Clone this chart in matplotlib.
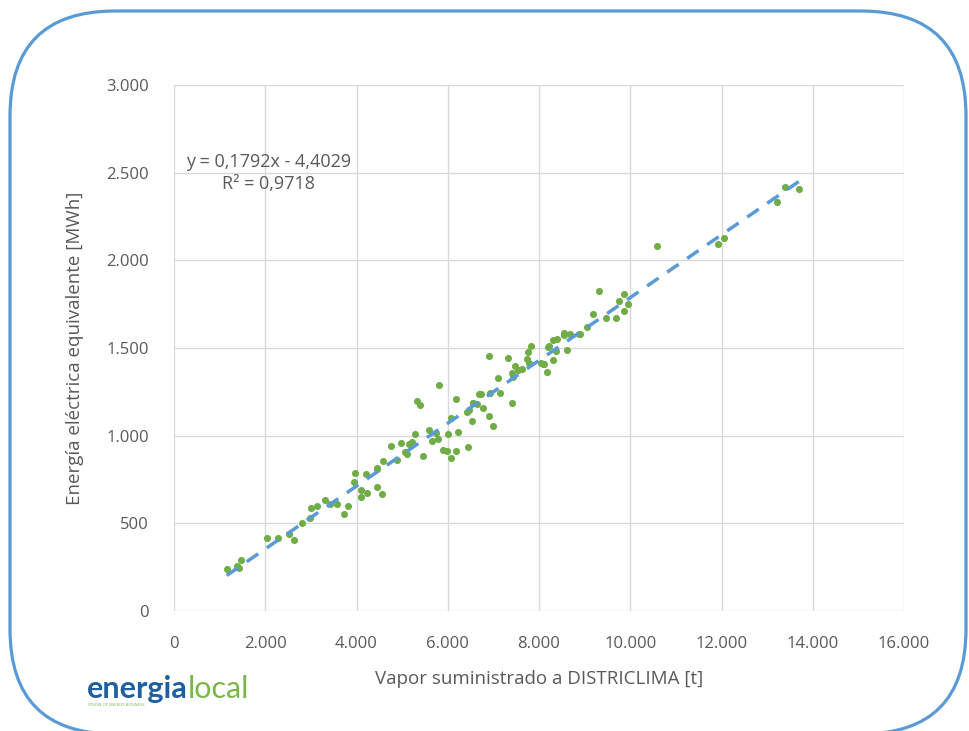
import numpy as np
import matplotlib
matplotlib.use("Agg")
import matplotlib.pyplot as plt
from matplotlib.patches import FancyBboxPatch
from matplotlib.transforms import IdentityTransform
from matplotlib.ticker import FuncFormatter

# Vapor suministrado [t]
vapor = [1155, 1388, 1462, 1432, 2046, 2272, 2521, 2638, 2799, 2981,
         3003, 3142, 3310, 3420, 3566, 3734, 3821, 3975, 4201, 3953,
         4092, 4099, 4223, 4443, 4443, 5815, 5320, 5392, 6181, 6686,
         6642, 6547, 6466, 6429, 6539, 6065, 6219, 6000, 5597, 5743,
         5780, 5662, 5283, 5224, 5158, 4969, 4763, 5064, 5114, 4882,
         5465, 5890, 5978, 6181, 6065, 6451, 4581, 4457, 4566, 6898,
         7328, 7819, 7766, 7731, 7481, 7547, 7621, 7416, 7438, 7102,
         7782, 8045, 8110, 8183, 8301, 8227, 8373, 8389, 8549, 8680,
         8621, 8884, 6927, 6722, 7146, 7416, 6561, 6767, 6898, 6981,
         9323, 9864, 9755, 9945, 9864, 9682, 9463, 9191, 9046, 8900,
         8549, 8315, 8205, 8095, 10594, 11931, 12056, 13211, 13393, 13707]
# Energía eléctrica equivalente [MWh]
energia = [238, 257, 291, 247, 418, 418, 441, 403, 500, 529,
           586, 599, 633, 610, 608, 553, 599, 785, 780, 737,
           690, 652, 671, 814, 709, 1289, 1199, 1175, 1211, 1236,
           1179, 1185, 1146, 1137, 1085, 1101, 1023, 1008, 1031, 1013,
           981, 968, 1008, 966, 952, 956, 943, 905, 895, 861,
           884, 918, 914, 914, 873, 937, 857, 812, 669, 1454,
           1441, 1513, 1475, 1435, 1399, 1374, 1378, 1356, 1333, 1330,
           1416, 1413, 1407, 1365, 1431, 1511, 1484, 1549, 1587, 1580,
           1488, 1580, 1241, 1238, 1245, 1185, 1185, 1158, 1112, 1055,
           1825, 1806, 1770, 1749, 1709, 1673, 1673, 1692, 1618, 1580,
           1574, 1545, 1507, 1409, 2082, 2093, 2127, 2333, 2420, 2408]

slope = 0.1792
intercept = -4.4029
r2 = 0.9718

x_ticks = [0, 2000, 4000, 6000, 8000, 10000, 12000, 14000, 16000]
y_ticks = [0, 500, 1000, 1500, 2000, 2500, 3000]

txt = "#595959"
plt.rcParams['font.family'] = ['Open Sans', 'DejaVu Sans']

fig = plt.figure(figsize=(9.7, 7.31), dpi=100)
ax = fig.add_axes([0.1794, 0.1642, 0.932 - 0.1794, 0.8837 - 0.1642])

ax.scatter(vapor, energia, s=26, color="#70AD47", zorder=3, linewidths=0)
xl = np.array([min(vapor), max(vapor)])
ax.plot(xl, slope * xl + intercept, color="#5B9BD5", lw=2.5,
        dashes=(4, 3), zorder=4)

ax.set_xlim(0, 16000)
ax.set_ylim(0, 3000)
ax.set_xticks(x_ticks)
ax.set_yticks(y_ticks)
fmt = FuncFormatter(lambda v, p: f"{int(v):,}".replace(",", "."))
ax.xaxis.set_major_formatter(fmt)
ax.yaxis.set_major_formatter(fmt)
ax.tick_params(length=0, labelsize=12, labelcolor=txt, pad=18)
ax.grid(True, color="#D9D9D9", lw=1)
ax.set_axisbelow(True)
for s in ax.spines.values():
    s.set_visible(False)

ax.set_xlabel("Vapor suministrado a DISTRICLIMA [t]", fontsize=13.5,
              color=txt, labelpad=13)
ax.set_ylabel("Energía eléctrica equivalente [MWh]", fontsize=13.5,
              color=txt, labelpad=16)

eq = f"y = {slope:.4f}x - {abs(intercept):.4f}".replace(".", ",")
ax.text(0.13, 0.833, eq + "\n" + f"R² = {r2:.4f}".replace(".", ","),
        transform=ax.transAxes, ha="center", va="center", fontsize=13,
        color=txt, linespacing=1.3)

# rounded frame (pixel coordinates, partly outside the canvas)
frame = FancyBboxPatch((10, -3), 956, 723,
                       boxstyle="round,pad=0,rounding_size=105",
                       transform=IdentityTransform(), fill=False,
                       edgecolor="#5B9BD5", lw=2.3)
fig.patches.append(frame)

# logo
fig.text(87 / 970, 1 - 689 / 731, "energia", color="#1F5FA0", fontsize=22,
         fontweight="bold", va="center", ha="left", family="Lato")
fig.text(188 / 970, 1 - 689 / 731, "local", color="#7AB648", fontsize=22,
         va="center", ha="left", family="Lato")
fig.text(88 / 970, 1 - 705 / 731, "VISION OF ENERGY BUSINESS", color="#7AB648",
         fontsize=3, va="center", ha="left")

fig.savefig("out.png", dpi=100)
